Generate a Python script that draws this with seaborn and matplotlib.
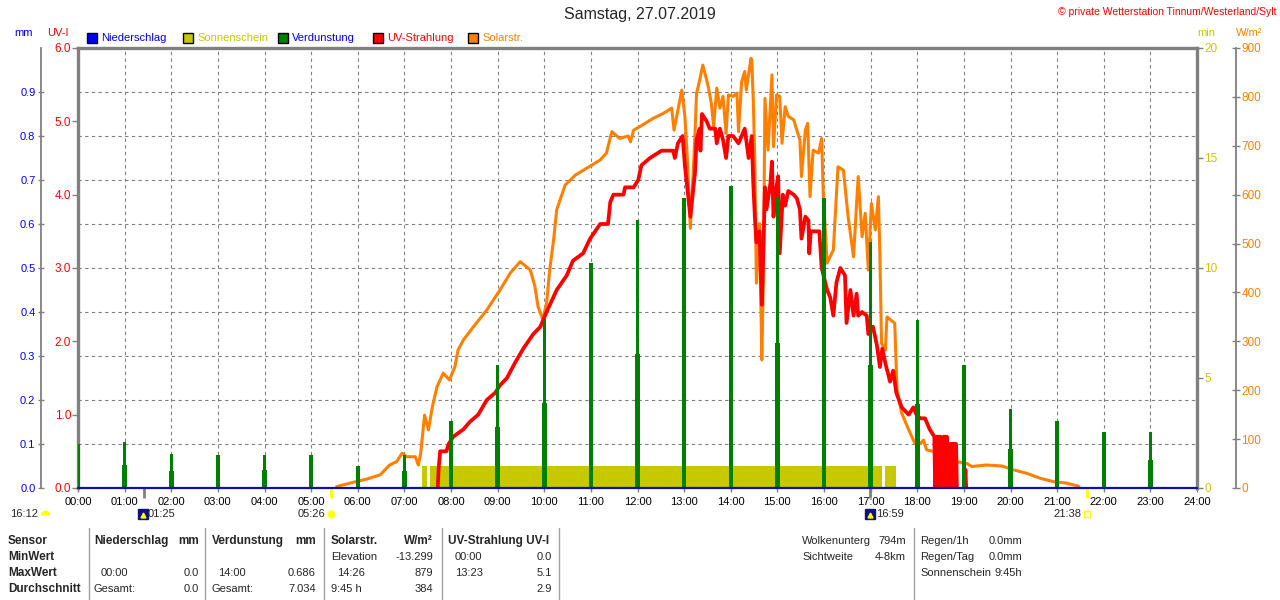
import matplotlib
matplotlib.use("Agg")
import numpy as np
import pandas as pd
import matplotlib.pyplot as plt
import seaborn as sns
from matplotlib.lines import Line2D
from matplotlib.patches import Rectangle
from matplotlib.transforms import blended_transform_factory

# ---------------- data ----------------
hours = list(range(25))
hour_labels = [f"{h:02d}:00" for h in hours]

# Niederschlag (mm) - nothing all day
rain_hours = [0, 24]
rain_mm = [0.0, 0.0]

# Verdunstung (mm), two bars per hour
evap_hours = list(range(24))
evap_peak = [0.100, 0.105, 0.077, 0.075, 0.075, 0.075, 0.050, 0.075, 0.153, 0.280, 0.384, 0.511,
             0.609, 0.660, 0.686, 0.660, 0.660, 0.560, 0.382, 0.280, 0.179, 0.153, 0.128, 0.128]
evap_base = [0.050, 0.052, 0.038, 0.040, 0.040, 0.037, 0.025, 0.038, 0.075, 0.139, 0.193, 0.255,
             0.305, 0.330, 0.344, 0.330, 0.330, 0.280, 0.190, 0.141, 0.089, 0.077, 0.064, 0.064]

# Sonnenschein (min per minute)
sun_start = ["07:23", "07:33", "17:19"]
sun_end = ["07:29", "17:14", "17:33"]
sun_min = [1.0, 1.0, 1.0]

# Solarstrahlung (W/m2)
solar_times = ["05:33", "05:50", "06:11", "06:29", "06:41", "06:50", "06:57", "07:03", "07:14", "07:18",
               "07:21", "07:24", "07:26", "07:31", "07:36", "07:42", "07:50", "07:58", "08:05", "08:09",
               "08:16", "08:29", "08:46", "09:03", "09:16", "09:29", "09:42", "09:48", "09:52", "09:58",
               "10:03", "10:07", "10:12", "10:16", "10:27", "10:40", "11:12", "11:20", "11:27", "11:37",
               "11:48", "11:51", "11:55", "12:07", "12:20", "12:33", "12:44", "12:47", "12:52", "12:57",
               "13:01", "13:04", "13:08", "13:11", "13:14", "13:16", "13:20", "13:24", "13:28", "13:31",
               "13:35", "13:38", "13:42", "13:46", "13:50", "13:54", "13:57", "14:03", "14:08", "14:10",
               "14:14", "14:18", "14:20", "14:26", "14:27", "14:29", "14:31", "14:33", "14:37", "14:40",
               "14:42", "14:44", "14:48", "14:53", "14:55", "14:59", "15:03", "15:06", "15:10", "15:14",
               "15:21", "15:25", "15:29", "15:31", "15:36", "15:39", "15:42", "15:46", "15:53", "15:57",
               "15:59", "16:04", "16:12", "16:18", "16:25", "16:31", "16:38", "16:44", "16:49", "16:53",
               "16:57", "17:01", "17:06", "17:10", "17:12", "17:14", "17:19", "17:21", "17:31", "17:34",
               "17:40", "17:49", "17:57", "18:04", "18:08", "18:12", "18:23", "18:38", "18:51", "19:04",
               "19:10", "19:29", "19:49", "20:04", "20:21", "20:38", "20:55", "21:12", "21:27", "21:29"]
solar_vals = [3, 10, 18, 27, 47, 54, 71, 64, 64, 47,
              71, 119, 149, 119, 166, 207, 235, 221, 248, 282,
              303, 330, 364, 405, 439, 463, 446, 412, 371, 345,
              378, 446, 507, 569, 620, 640, 671, 685, 729, 715,
              720, 708, 732, 743, 756, 766, 777, 732, 773, 814,
              760, 678, 531, 623, 725, 807, 834, 865, 841, 821,
              787, 739, 818, 777, 801, 725, 804, 801, 808, 729,
              831, 852, 814, 879, 875, 794, 664, 419, 541, 262,
              432, 797, 691, 845, 698, 804, 801, 705, 780, 760,
              753, 732, 712, 637, 732, 746, 596, 691, 685, 715,
              603, 460, 487, 657, 650, 555, 473, 637, 514, 562,
              446, 582, 528, 596, 473, 296, 282, 350, 337, 200,
              153, 119, 91, 91, 98, 78, 74, 78, 54, 50,
              44, 47, 45, 37, 30, 20, 13, 10, 4, 0]

# UV-Strahlung (UV-I), split into pieces where the sensor drops out
uv_times = ["07:43", "07:44", "07:46", "07:54", "07:57", "08:03", "08:16", "08:24", "08:35", "08:46",
            "08:57", "09:03", "09:12", "09:22", "09:33", "09:46", "09:55", "10:03", "10:16", "10:29",
            "10:37", "10:50", "10:59", "11:12", "11:22", "11:25", "11:29", "11:42", "11:44", "11:55",
            "12:01", "12:05", "12:16", "12:31", "12:46", "12:48", "12:52", "12:58", "13:01", "13:04",
            "13:08", "13:11", "13:14", "13:16", "13:20", "13:21", "13:23", "13:29", "13:33", "13:40",
            "13:42", "13:46", "13:50", "13:54", "13:57", "14:03", "14:10", "14:14", "14:18", "14:23",
            "14:27", "14:29", "14:31", "14:33", "14:37", "14:40", "14:42", "14:44", "14:46", "14:51",
            "14:53", "14:55", "14:58", "15:01", "15:03", "15:07", "15:10", "15:14", "15:21", "15:25",
            "15:29", "15:31", "15:36", "15:40", "15:41", "15:43", "15:48", "15:54", "15:57", "16:04",
            "16:08", "16:12", "16:16", "16:21", "16:27", "16:29", "16:34", "16:38", "16:42", "16:44",
            "16:49", "16:55", "16:57", "17:03", "17:08", "17:12", "17:15", "17:19", "17:25", "17:29",
            "17:33", "17:40", "17:49", "17:55", "17:59", "18:04", "18:10", "18:16", "18:22", "18:23",
            "18:24", "18:25", "18:26", "18:27", "18:28", "18:29", "18:30", "18:31",
            "18:34", "18:35", "18:36", "18:37", "18:38", "18:39",
            "18:42", "18:43", "18:44", "18:45", "18:46", "18:47", "18:48", "18:49", "18:50", "18:51",
            "19:01", "19:02", "19:03"]
uv_vals = [0.0, 0.25, 0.5, 0.5, 0.6, 0.7, 0.8, 0.9, 1.0, 1.2,
           1.3, 1.4, 1.5, 1.7, 1.9, 2.1, 2.2, 2.4, 2.7, 2.9,
           3.1, 3.2, 3.4, 3.6, 3.6, 3.9, 4.0, 4.0, 4.1, 4.1,
           4.2, 4.4, 4.5, 4.6, 4.6, 4.5, 4.7, 4.8, 4.4, 4.1,
           3.7, 4.0, 4.3, 4.75, 4.9, 4.6, 5.1, 5.0, 4.9, 4.9,
           4.7, 4.9, 4.75, 4.5, 4.8, 4.8, 4.7, 4.8, 4.9, 4.5,
           4.8, 4.15, 3.7, 3.35, 3.5, 2.5, 3.25, 4.1, 3.8, 4.15,
           4.45, 3.7, 4.05, 4.25, 3.2, 4.0, 3.85, 4.05, 4.0, 3.95,
           3.8, 3.4, 3.7, 3.65, 3.2, 3.5, 3.5, 3.5, 3.0, 2.7,
           2.6, 2.35, 2.8, 3.0, 2.9, 2.25, 2.7, 2.35, 2.65, 2.35,
           2.4, 2.35, 2.1, 2.2, 1.95, 1.65, 1.9, 1.7, 1.45, 1.6,
           1.3, 1.1, 1.0, 1.1, 1.0, 0.95, 0.95, 0.8, 0.7, 0.0,
           0.7, 0.0, 0.7, 0.0, 0.7, 0.0, 0.7, 0.0,
           0.7, 0.0, 0.7, 0.0, 0.7, 0.0,
           0.6, 0.0, 0.6, 0.0, 0.6, 0.0, 0.6, 0.0, 0.6, 0.0,
           0.0, 0.25, 0.0]
uv_part = [0] * 128 + [1] * 6 + [2] * 10 + [3] * 3

# sun / moon events under the time axis
moon_times = ["01:25", "16:59"]
sun_times = ["05:26", "21:38"]

# ---------------- helpers ----------------
W, H = 1280, 600


def hrs(s):
    h, m = s.split(":")
    return int(h) + int(m) / 60.0


def fx(x):
    return x / W


def fy(y):
    return 1 - y / H


BLUE = "#0000FF"
RED = "#FF0000"
ORANGE = "#FF8000"
OLIVE = "#C8C800"
GREEN = "#008000"
GRAY = "#808080"

sns.set_style("white")
plt.rcParams["font.family"] = ["Liberation Sans", "DejaVu Sans"]

fig = plt.figure(figsize=(12.8, 6), dpi=100)
ax = fig.add_axes([fx(78), fy(488), (1197 - 78) / W, 440 / H])

# main axes: mm scale + grid
ax.set_xlim(0, 24)
ax.set_ylim(0, 1.0)
ax.set_yticks(np.arange(0, 1.0, 0.1))
ax.set_yticklabels([f"{v:.1f}" for v in np.arange(0, 1.0, 0.1)])
ax.set_xticks(hours)
ax.set_xticklabels(hour_labels)
ax.grid(True, color=GRAY, linestyle=(0, (3, 3)), linewidth=0.8)
for s in ["top", "right", "bottom"]:
    ax.spines[s].set_visible(False)
ax.spines["left"].set_position(("outward", 26.6))
ax.spines["left"].set_color(GRAY)
ax.spines["left"].set_linewidth(1.3)
ax.tick_params(axis="y", direction="inout", length=5, width=1, color=GRAY,
               labelcolor=BLUE, labelsize=8, pad=1.5, left=True)
ax.tick_params(axis="x", direction="out", length=3, width=1, color=GRAY,
               labelcolor="black", labelsize=8, pad=3.5, bottom=True)

# sunshine minutes (right axis at frame)
ax_min = ax.twinx()
ax_min.set_ylim(0, 20)
sun_l = [hrs(s) for s in sun_start]
sun_w = [hrs(e) - hrs(s) for s, e in zip(sun_start, sun_end)]
ax_min.bar(sun_l, sun_min, width=sun_w, align="edge", color=OLIVE, linewidth=0)
ax_min.set_yticks([0, 5, 10, 15, 20])
ax_min.tick_params(axis="y", direction="out", length=4.3, width=1, color=GRAY,
                   labelcolor=OLIVE, labelsize=8.5, pad=1)
for s in ["top", "left", "bottom"]:
    ax_min.spines[s].set_visible(False)
ax_min.spines["right"].set_color(GRAY)
ax_min.spines["right"].set_linewidth(2.4)

# solar radiation (outer right axis)
ax_w = ax.twinx()
solar_df = pd.DataFrame({"t": [hrs(t) for t in solar_times], "w": solar_vals})
sns.lineplot(data=solar_df, x="t", y="w", ax=ax_w, color=ORANGE, linewidth=2.2,
             estimator=None, sort=False)
ax_w.set_ylim(0, 900)
ax_w.set_yticks(range(0, 1000, 100))
ax_w.set_ylabel("")
ax_w.spines["right"].set_position(("outward", 28))
ax_w.spines["right"].set_color(GRAY)
ax_w.spines["right"].set_linewidth(1.3)
for s in ["top", "left", "bottom"]:
    ax_w.spines[s].set_visible(False)
ax_w.tick_params(axis="y", direction="inout", length=6, width=1, color=GRAY,
                 labelcolor=ORANGE, labelsize=8.5, pad=1)

# UV index (left axis at frame)
ax_uv = ax.twinx()
uv_df = pd.DataFrame({"t": [hrs(t) for t in uv_times], "uv": uv_vals, "part": uv_part})
sns.lineplot(data=uv_df, x="t", y="uv", units="part", ax=ax_uv, color=RED, linewidth=2.7,
             estimator=None, sort=False)
ax_uv.set_ylim(0, 6)
ax_uv.set_ylabel("")
ax_uv.yaxis.tick_left()
ax_uv.set_yticks(range(7))
ax_uv.set_yticklabels([f"{v:.1f}" for v in range(7)])
ax_uv.tick_params(axis="y", direction="out", length=4, width=1, color=GRAY,
                  labelcolor=RED, labelsize=8.5, pad=1, left=True, right=False)
for s in ["right", "bottom"]:
    ax_uv.spines[s].set_visible(False)
for s in ["left", "top"]:
    ax_uv.spines[s].set_visible(True)
    ax_uv.spines[s].set_color(GRAY)
    ax_uv.spines[s].set_linewidth(2.4)

# evaporation bars + precipitation line (mm scale)
ax_ev = ax.twinx()
ax_ev.set_ylim(0, 1.0)
px_h = 24 / (1197 - 78)
ax_ev.bar(evap_hours, evap_base, width=4.5 * px_h, color=GREEN, linewidth=0)
ax_ev.bar(evap_hours, evap_peak, width=3.5 * px_h, color=GREEN, linewidth=0)
ax_ev.plot(rain_hours, rain_mm, color="#1010B0", linewidth=1.6, clip_on=False)
ax_ev.set_yticks([])
for s in ax_ev.spines.values():
    s.set_visible(False)

ax.set_xlim(0, 24)

# event ticks below the axis
trans = blended_transform_factory(ax.transData, ax.transAxes)
ax.vlines([hrs(t) for t in moon_times], -0.022, 0, transform=trans, colors=GRAY,
          linewidth=2, clip_on=False)
ax.vlines([hrs(t) for t in sun_times], -0.022, 0, transform=trans, colors="#FFFF00",
          linewidth=2, clip_on=False)

# ---------------- texts ----------------
fig.text(0.5, fy(15), "Samstag, 27.07.2019", ha="center", va="center", fontsize=11.5)
fig.text(fx(1276), fy(12), "© private Wetterstation Tinnum/Westerland/Sylt", ha="right",
         va="center", fontsize=7.5, color=RED)

fig.text(fx(14), fy(33), "mm", color=BLUE, fontsize=8, va="center")
fig.text(fx(47), fy(33), "UV-I", color=RED, fontsize=8, va="center")
fig.text(fx(1197), fy(33), "min", color=OLIVE, fontsize=8, va="center")
fig.text(fx(1236), fy(33), "W/m²", color=ORANGE, fontsize=8, va="center")

legend_items = [(87, "Niederschlag", BLUE, BLUE), (183, "Sonnenschein", OLIVE, OLIVE),
                (278, "Verdunstung", GREEN, BLUE), (373, "UV-Strahlung", RED, RED),
                (468, "Solarstr.", ORANGE, ORANGE)]
for x0, lab, fc, tc in legend_items:
    fig.add_artist(Rectangle((fx(x0), fy(43)), 10 / W, 10 / H, transform=fig.transFigure,
                             facecolor=fc, edgecolor="black", linewidth=1))
    fig.text(fx(x0 + 14), fy(38), lab, color=tc, fontsize=8, va="center")

# sun and moon markers
fig.text(fx(10), fy(514), "16:12", fontsize=8, va="center")
fig.add_artist(Line2D([fx(45)], [fy(515)], marker="o", markersize=7, fillstyle="top",
                      markerfacecolor="#FFFF00", markerfacecoloralt="none",
                      markeredgecolor="none", transform=fig.transFigure))
fig.text(fx(148), fy(514), "01:25", fontsize=8, va="center")
fig.text(fx(876), fy(514), "16:59", fontsize=8, va="center")
for xm in [143, 870]:
    fig.add_artist(Line2D([fx(xm)], [fy(514)], marker="s", markersize=7.5,
                          markerfacecolor="#101080", markeredgecolor="#101080",
                          transform=fig.transFigure))
    fig.add_artist(Line2D([fx(xm)], [fy(515)], marker="^", markersize=3.5,
                          markerfacecolor="#FFFF00", markeredgecolor="#FFFF00",
                          transform=fig.transFigure))
fig.text(fx(325), fy(514), "05:26", fontsize=8, va="center", ha="right")
fig.add_artist(Line2D([fx(331)], [fy(514)], marker="o", markersize=6,
                      markerfacecolor="#FFFF00", markeredgecolor="#FFFFA0",
                      transform=fig.transFigure))
fig.text(fx(1081), fy(514), "21:38", fontsize=8, va="center", ha="right")
fig.add_artist(Line2D([fx(1087)], [fy(514)], marker="s", markersize=4,
                      markerfacecolor="none", markeredgecolor="#FFFF00",
                      transform=fig.transFigure))

# ---------------- summary table ----------------
rows_y = [541, 557, 573, 589]
for y, lab in zip(rows_y, ["Sensor", "MinWert", "MaxWert", "Durchschnitt"]):
    fig.text(fx(8), fy(y), lab, fontsize=8.5, fontweight="bold", va="center")

table_cells = [
    (94, 541, "Niederschlag", "left", True), (199, 541, "mm", "right", True),
    (212, 541, "Verdunstung", "left", True), (316, 541, "mm", "right", True),
    (331, 541, "Solarstr.", "left", True), (433, 541, "W/m²", "right", True),
    (448, 541, "UV-Strahlung UV-I", "left", True),
    (331, 557, "Elevation", "left", False), (433, 557, "-13.299", "right", False),
    (455, 557, "00:00", "left", False), (552, 557, "0.0", "right", False),
    (101, 573, "00:00", "left", False), (199, 573, "0.0", "right", False),
    (218, 573, "14:00", "left", False), (316, 573, "0.686", "right", False),
    (337, 573, "14:26", "left", False), (433, 573, "879", "right", False),
    (455, 573, "13:23", "left", False), (552, 573, "5.1", "right", False),
    (94, 589, "Gesamt:", "left", False), (199, 589, "0.0", "right", False),
    (212, 589, "Gesamt:", "left", False), (316, 589, "7.034", "right", False),
    (331, 589, "9:45 h", "left", False), (433, 589, "384", "right", False),
    (552, 589, "2.9", "right", False),
    (802, 541, "Wolkenunterg", "left", False), (906, 541, "794m", "right", False),
    (802, 557, "Sichtweite", "left", False), (906, 557, "4-8km", "right", False),
    (920, 541, "Regen/1h", "left", False), (1022, 541, "0.0mm", "right", False),
    (920, 557, "Regen/Tag", "left", False), (1022, 557, "0.0mm", "right", False),
    (920, 573, "Sonnenschein", "left", False), (1022, 573, "9:45h", "right", False),
]
for x, y, txt, ha, bold in table_cells:
    fig.text(fx(x), fy(y), txt, ha=ha, va="center", fontsize=8.5 if bold else 8,
             fontweight="bold" if bold else "normal")

for xs in [88.5, 205, 324, 442, 559, 913.5]:
    fig.add_artist(Line2D([fx(xs), fx(xs)], [fy(528), fy(600)], color="#A0A0A0",
                          linewidth=1, transform=fig.transFigure))

fig.savefig("out.png", dpi=100)
